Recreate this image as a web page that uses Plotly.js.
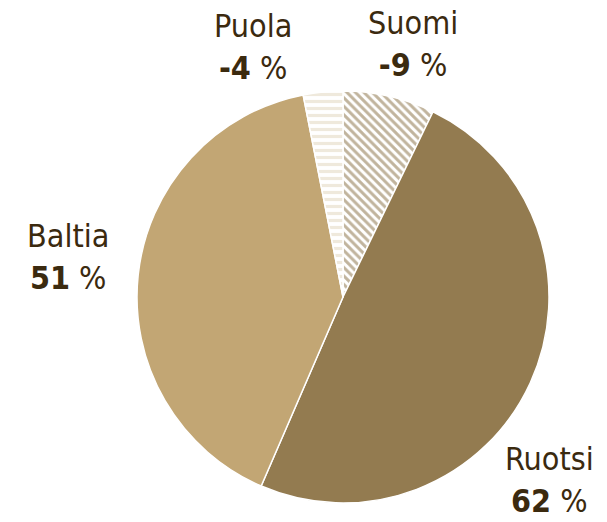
<!DOCTYPE html>
<html><head><meta charset="utf-8">
<script src="https://cdn.plot.ly/plotly-3.0.1.min.js"></script>
<style>html,body{margin:0;padding:0;background:#fff}#chart{width:607px;height:522px}</style>
</head><body><div id="chart"></div>
<script>
// Data
const regions = ["Suomi", "Ruotsi", "Baltia", "Puola"];
const shares = [7.2, 49.3, 40.4, 3.1];
const growth = ["-9", "62", "51", "-4"];

const fills = ["#ffffff", "#937b50", "#c2a674", "#ffffff"];
const patterns = [
  {shape: "\\", fgcolor: "#836a3c", bgcolor: "#ffffff", size: 6, solidity: 0.5},
  {shape: ""},
  {shape: ""},
  {shape: "-", fgcolor: "#e0d3b9", bgcolor: "#ffffff", size: 7, solidity: 0.45}
];

const labelPos = {
  Suomi: [413, 44],
  Ruotsi: [549, 480],
  Baltia: [68, 257],
  Puola: [253, 47]
};

const W = 607, H = 522;
const cx = 343, cy = 297, r = 206;

const annotations = regions.map((name, i) => ({
  text: name + "<br><b>" + growth[i] + "</b> %",
  x: labelPos[name][0] / W,
  y: 1 - labelPos[name][1] / H,
  xref: "paper", yref: "paper",
  xanchor: "center", yanchor: "middle",
  showarrow: false,
  align: "center",
  font: {family: "Liberation Sans Narrow, DejaVu Sans Condensed, Arial Narrow, sans-serif", size: 32, color: "#3b2a0f"}
}));

const trace = {
  type: "pie",
  labels: regions,
  values: shares,
  sort: false,
  direction: "clockwise",
  rotation: 0,
  textinfo: "none",
  hoverinfo: "none",
  showlegend: false,
  domain: {x: [(cx - r) / W, (cx + r) / W], y: [(H - cy - r) / H, (H - cy + r) / H]},
  marker: {
    colors: fills,
    line: {color: "#ffffff", width: 1.5},
    pattern: {
      shape: patterns.map(p => p.shape),
      fgcolor: patterns.map(p => p.fgcolor || "#ffffff"),
      bgcolor: patterns.map(p => p.bgcolor || "#ffffff"),
      size: patterns.map(p => p.size || 8),
      solidity: patterns.map(p => p.solidity || 0.3),
      fillmode: "overlay"
    }
  }
};

Plotly.newPlot("chart", [trace], {
  width: W, height: H,
  margin: {l: 0, r: 0, t: 0, b: 0},
  paper_bgcolor: "#ffffff",
  annotations: annotations
}, {staticPlot: true});
</script></body></html>
